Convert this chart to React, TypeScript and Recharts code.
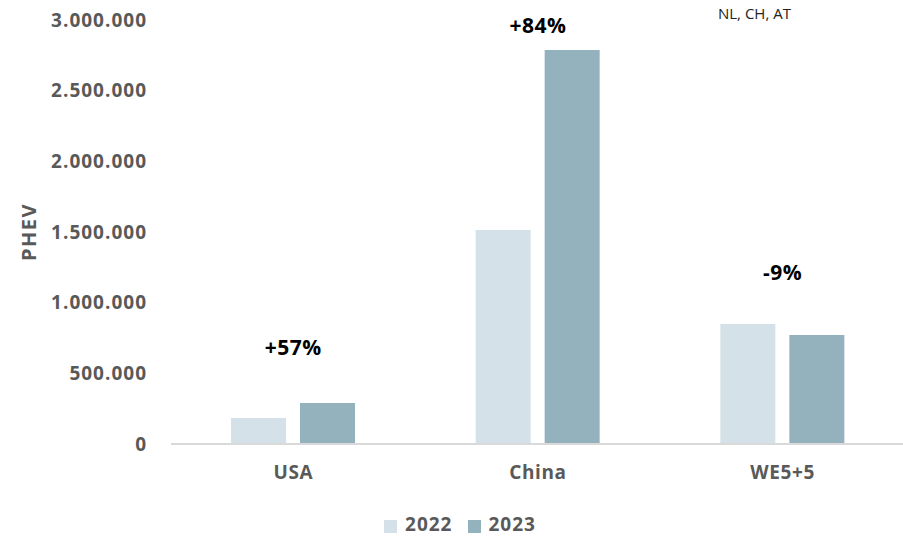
import { Bar, BarChart, Legend, ReferenceDot, XAxis, YAxis } from "recharts";

const regions = ["USA", "China", "WE5+5"];
const sales2022 = [184000, 1514000, 849000];
const sales2023 = [290000, 2788000, 771000];
const growthLabels = ["+57%", "+84%", "-9%"];
const growthLabelY = [679000, 2958000, 1210000];
const yTicks = [0, 500000, 1000000, 1500000, 2000000, 2500000, 3000000];

const data = regions.map((region, i) => ({
  region,
  y2022: sales2022[i],
  y2023: sales2023[i],
}));

const FONT = "'Open Sans', 'Noto Sans', sans-serif";
const GRAY = "#595959";
const LIGHT = "#d5e1e8";
const DARK = "#94b1be";

const fmt = (v: number) => v.toLocaleString("de-DE");

export default function App() {
  return (
    <div style={{ position: "absolute", left: 0, top: 0, width: 903, height: 538, background: "#fff", fontFamily: FONT }}>
      <div style={{ position: "absolute", left: 718, top: 3, fontSize: 15, color: "#222", fontFamily: FONT }}>
        NL, CH, AT
      </div>
      <BarChart
        width={903}
        height={538}
        data={data}
        margin={{ top: 20, right: -2, left: 0, bottom: 0 }}
        barCategoryGap={60}
        barGap={14}
      >
        <XAxis
          dataKey="region"
          axisLine={{ stroke: "#d9d9d9", strokeWidth: 2 }}
          tickLine={false}
          tickMargin={16}
          height={66}
          tick={{ fill: GRAY, fontSize: 19, fontWeight: 700, fontFamily: FONT, letterSpacing: 0.6 }}
        />
        <YAxis
          width={171}
          domain={[0, 3000000]}
          ticks={yTicks}
          tickFormatter={fmt}
          axisLine={false}
          tickLine={false}
          tickSize={0}
          tickMargin={24}
          tick={{ fill: GRAY, fontSize: 19, fontWeight: 700, fontFamily: FONT, letterSpacing: 1 }}
          label={{
            content: ({ viewBox }: any) => (
              <text
                x={viewBox.x + 28}
                y={viewBox.y + viewBox.height / 2}
                transform={`rotate(-90, ${viewBox.x + 28}, ${viewBox.y + viewBox.height / 2})`}
                textAnchor="middle"
                dominantBaseline="central"
                fill={GRAY}
                fontSize={20}
                fontWeight={700}
                fontFamily={FONT}
                letterSpacing={1.5}
              >
                PHEV
              </text>
            ),
          }}
        />
        <Legend
          verticalAlign="bottom"
          height={28}
          iconType="square"
          iconSize={13}
          wrapperStyle={{ paddingLeft: 15, lineHeight: "28px" }}
          formatter={(value: string) => (
            <span
              style={{
                color: GRAY,
                fontSize: 19,
                fontWeight: 700,
                fontFamily: FONT,
                letterSpacing: 1,
                paddingLeft: 4,
                paddingRight: 5,
              }}
            >
              {value}
            </span>
          )}
        />
        <Bar dataKey="y2022" name="2022" fill={LIGHT} isAnimationActive={false} />
        <Bar dataKey="y2023" name="2023" fill={DARK} isAnimationActive={false} />
        {regions.map((r, i) => (
          <ReferenceDot
            key={r}
            x={r}
            y={growthLabelY[i]}
            r={0}
            stroke="none"
            fill="none"
            label={{
              value: growthLabels[i],
              position: "center",
              fill: "#000",
              fontSize: 21,
              fontWeight: 700,
              fontFamily: FONT,
              letterSpacing: 0.5,
            }}
          />
        ))}
      </BarChart>
    </div>
  );
}
